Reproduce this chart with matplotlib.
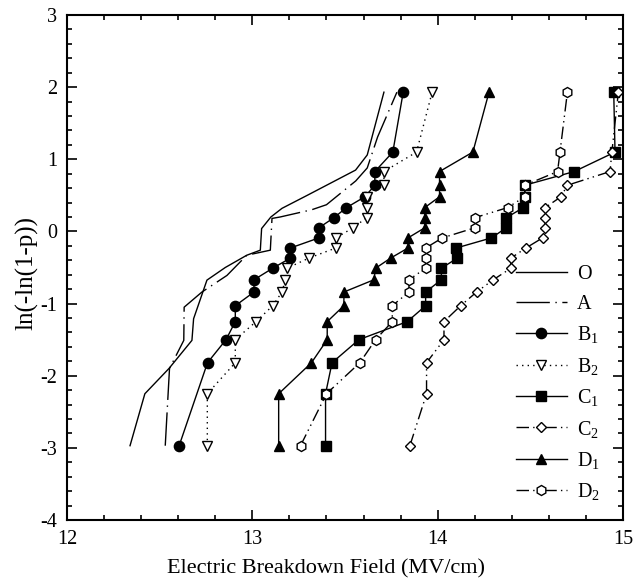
import matplotlib
matplotlib.use('Agg')
from matplotlib import pyplot as plt
from matplotlib.ticker import MultipleLocator

# Weibull plot values: x = field (MV/cm), y = ln(-ln(1-p))
x_o = [12.34, 12.42, 12.55, 12.674, 12.683, 12.755, 12.854, 12.97, 13.043, 13.05,
       13.10, 13.16, 13.296, 13.557, 13.62, 13.71]
y_o = [-2.97, -2.25, -1.90, -1.51, -1.21, -0.675, -0.50, -0.33, -0.26, 0.04,
       0.20, 0.32, 0.50, 0.85, 1.06, 1.93]

x_a = [12.53, 12.553, 12.63, 12.632, 12.728, 12.863, 12.97, 13.097, 13.106, 13.15,
       13.32, 13.40, 13.558, 13.62, 13.676, 13.78]
y_a = [-2.97, -1.90, -1.51, -1.05, -0.84, -0.61, -0.33, -0.26, 0.18, 0.20,
       0.30, 0.37, 0.70, 0.88, 1.31, 1.93]

x_b1 = [12.605, 12.758, 12.858, 12.908, 12.908, 13.009, 13.009, 13.11, 13.205, 13.205,
        13.359, 13.359, 13.44, 13.508, 13.607, 13.661, 13.661, 13.758, 13.814]
y_b1 = [-2.97, -1.82, -1.50, -1.25, -1.03, -0.84, -0.67, -0.51, -0.37, -0.23,
        -0.09, 0.05, 0.19, 0.33, 0.48, 0.64, 0.83, 1.10, 1.93]

x_b2 = [12.757, 12.757, 12.908, 12.908, 13.02, 13.11, 13.16, 13.178, 13.187, 13.305,
        13.45, 13.45, 13.544, 13.616, 13.616, 13.62, 13.71, 13.71, 13.886, 13.97]
y_b2 = [-2.97, -2.25, -1.82, -1.50, -1.25, -1.03, -0.84, -0.67, -0.51, -0.37,
        -0.23, -0.09, 0.05, 0.19, 0.33, 0.48, 0.64, 0.83, 1.10, 1.93]

x_c1 = [13.395, 13.395, 13.43, 13.575, 13.836, 13.935, 13.935, 14.02, 14.02, 14.106,
        14.10, 14.29, 14.37, 14.37, 14.463, 14.47, 14.47, 14.737, 14.957, 14.95]
y_c1 = [-2.97, -2.25, -1.82, -1.50, -1.25, -1.03, -0.84, -0.67, -0.51, -0.37,
        -0.23, -0.09, 0.05, 0.19, 0.33, 0.48, 0.64, 0.83, 1.10, 1.93]

x_c2 = [13.85, 13.94, 13.94, 14.034, 14.034, 14.124, 14.21, 14.30, 14.395, 14.395,
        14.476, 14.566, 14.58, 14.58, 14.58, 14.665, 14.70, 14.93, 14.94, 14.975]
y_c2 = [-2.97, -2.25, -1.82, -1.50, -1.25, -1.03, -0.84, -0.67, -0.51, -0.37,
        -0.23, -0.09, 0.05, 0.19, 0.33, 0.48, 0.64, 0.83, 1.10, 1.93]

x_d1 = [13.142, 13.142, 13.319, 13.404, 13.404, 13.494, 13.494, 13.656, 13.665, 13.746,
        13.84, 13.84, 13.93, 13.93, 13.93, 14.01, 14.01, 14.01, 14.19, 14.277]
y_d1 = [-2.97, -2.25, -1.82, -1.50, -1.25, -1.03, -0.84, -0.67, -0.51, -0.37,
        -0.23, -0.09, 0.05, 0.19, 0.33, 0.48, 0.64, 0.83, 1.10, 1.93]

x_d2 = [13.26, 13.40, 13.58, 13.665, 13.755, 13.755, 13.845, 13.845, 13.935, 13.935,
        13.935, 14.025, 14.20, 14.20, 14.377, 14.47, 14.47, 14.647, 14.66, 14.70]
y_d2 = [-2.97, -2.25, -1.82, -1.50, -1.25, -1.03, -0.84, -0.67, -0.51, -0.37,
        -0.23, -0.09, 0.05, 0.19, 0.33, 0.48, 0.64, 0.83, 1.10, 1.93]

labels = ['O', 'A', 'B$_1$', 'B$_2$', 'C$_1$', 'C$_2$', 'D$_1$', 'D$_2$']

plt.rcParams['font.family'] = ['Liberation Serif', 'DejaVu Serif']
plt.rcParams['mathtext.fontset'] = 'custom'
plt.rcParams['mathtext.rm'] = 'Liberation Serif'
plt.rcParams['mathtext.it'] = 'Liberation Serif'
plt.rcParams['axes.unicode_minus'] = False

fig = plt.figure(figsize=(6.42, 5.85), dpi=100)
ax = fig.add_axes([0.1044, 0.1111, 0.866, 0.8633])

lw = 1.0
dash_long = (0, (24, 4, 1, 4))
dash_dd = (0, (9, 3, 1, 3, 1, 3))
open_kw = dict(markerfacecolor='white', markeredgecolor='black', markeredgewidth=1.0)

ax.plot(x_o, y_o, color='black', lw=lw, ls='-', label=labels[0])
ax.plot(x_a, y_a, color='black', lw=lw, ls=dash_long, label=labels[1])
ax.plot(x_b1, y_b1, color='black', lw=lw, ls='-', marker='o', ms=7.4, label=labels[2])
ax.plot(x_b2, y_b2, color='black', lw=lw, ls=(0, (1, 3)), marker='v', ms=7.5,
        label=labels[3], **open_kw)
ax.plot(x_c1, y_c1, color='black', lw=lw, ls='-', marker='s', ms=6.5, label=labels[4])
ax.plot(x_c2, y_c2, color='black', lw=lw, ls=dash_dd, marker='D', ms=5.2,
        label=labels[5], **open_kw)
ax.plot(x_d1, y_d1, color='black', lw=lw, ls='-', marker='^', ms=7.5, label=labels[6])
ax.plot(x_d2, y_d2, color='black', lw=lw, ls=dash_dd, marker='h', ms=7.2,
        label=labels[7], **open_kw)

ax.set_xlim(12, 15)
ax.set_ylim(-4, 3)
ax.xaxis.set_major_locator(MultipleLocator(1))
ax.xaxis.set_minor_locator(MultipleLocator(0.2))
ax.yaxis.set_major_locator(MultipleLocator(1))
ax.yaxis.set_minor_locator(MultipleLocator(0.2))
ax.tick_params(which='both', direction='in', top=True, right=True, width=1.2,
               labelsize=14.5)
ax.tick_params(which='major', length=7, pad=7)
ax.tick_params(which='minor', length=3.5)
for sp in ax.spines.values():
    sp.set_linewidth(1.5)

ax.set_xlabel('Electric Breakdown Field (MV/cm)', fontsize=16)
ax.xaxis.set_label_coords(0.466, -0.078)
ax.set_ylabel('ln(-ln(1-p))', fontsize=18)
ax.yaxis.set_label_coords(-0.052, 0.49)

ax.legend(loc='upper left', bbox_to_anchor=(0.808, 0.505), frameon=False,
          fontsize=14.5, handlelength=2.5, handletextpad=0.5, labelspacing=0.52,
          borderpad=0, borderaxespad=0)

fig.savefig('out.png', dpi=100)
